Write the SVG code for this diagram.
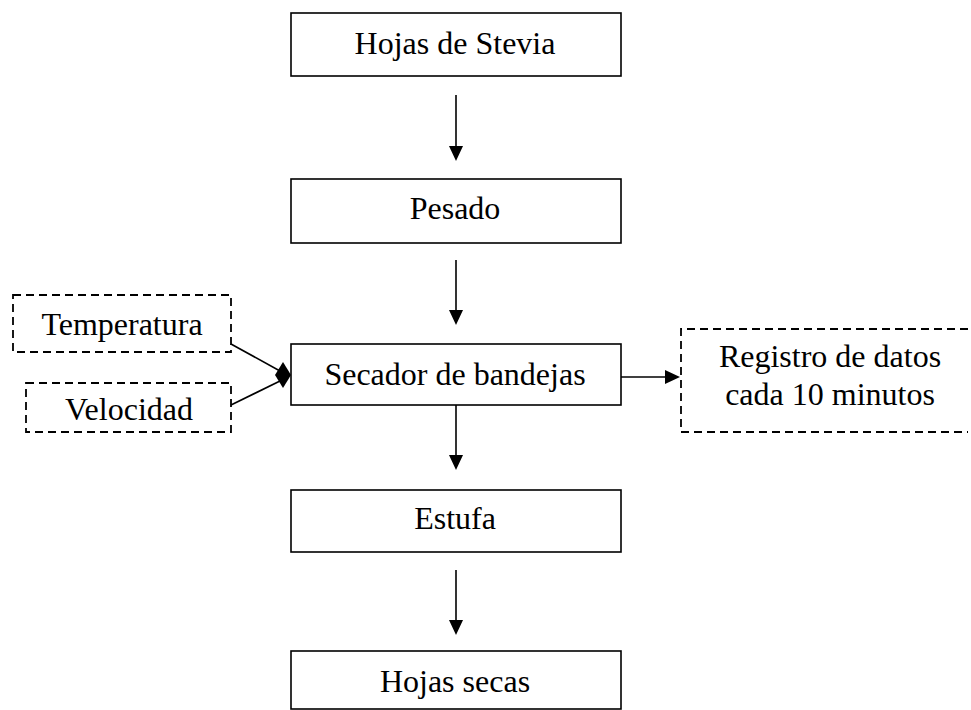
<svg xmlns="http://www.w3.org/2000/svg" width="971" height="710" viewBox="0 0 971 710">
<style>
.box{fill:#fff;stroke:#000;stroke-width:1.6}
.dash{fill:none;stroke:#000;stroke-width:1.8;stroke-dasharray:8 5}
.t{font-family:"Liberation Serif","Times New Roman",serif;font-size:32px;fill:#000;text-anchor:middle}
.c{stroke:#000;stroke-width:1.6;fill:none}
.ah{fill:#000}
</style>
<rect width="971" height="710" fill="#fff"/>
<g id="hojas-stevia"><rect class="box" x="291" y="13" width="330" height="63"/><text class="t" x="455" y="54">Hojas de Stevia</text></g>
<g id="pesado"><rect class="box" x="291" y="179" width="330" height="64"/><text class="t" x="455" y="219">Pesado</text></g>
<g id="secador"><rect class="box" x="291" y="344" width="330" height="61"/><text class="t" x="455" y="385">Secador de bandejas</text></g>
<g id="estufa"><rect class="box" x="291" y="490" width="330" height="62"/><text class="t" x="455" y="529">Estufa</text></g>
<g id="hojas-secas"><rect class="box" x="291" y="651" width="330" height="58"/><text class="t" x="455" y="692">Hojas secas</text></g>
<g id="temperatura"><rect class="dash" x="13" y="295" width="218" height="57"/><text class="t" x="122" y="335">Temperatura</text></g>
<g id="velocidad"><rect class="dash" x="26" y="383" width="205" height="49"/><text class="t" x="129" y="420">Velocidad</text></g>
<g id="registro"><path class="dash" d="M968 329 H681 V432 H968"/><text class="t" x="830" y="367">Registro de datos</text><text class="t" x="830" y="405">cada 10 minutos</text></g>
<g id="connectors">
<line class="c" x1="456" y1="95" x2="456" y2="148"/><polygon class="ah" points="449,146 463,146 456,161"/>
<line class="c" x1="456" y1="260" x2="456" y2="312"/><polygon class="ah" points="449,310 463,310 456,325"/>
<line class="c" x1="456" y1="405" x2="456" y2="457"/><polygon class="ah" points="449,455 463,455 456,470"/>
<line class="c" x1="456" y1="570" x2="456" y2="622"/><polygon class="ah" points="449,620 463,620 456,635"/>
<line class="c" x1="621" y1="377" x2="667" y2="377"/><polygon class="ah" points="665,370 665,384 680,377"/>
<line class="c" x1="231" y1="344" x2="280" y2="371"/>
<line class="c" x1="231" y1="405" x2="280" y2="381"/>
<polygon class="ah" points="275,375 283,362 291,375 283,388"/>
</g>
</svg>
